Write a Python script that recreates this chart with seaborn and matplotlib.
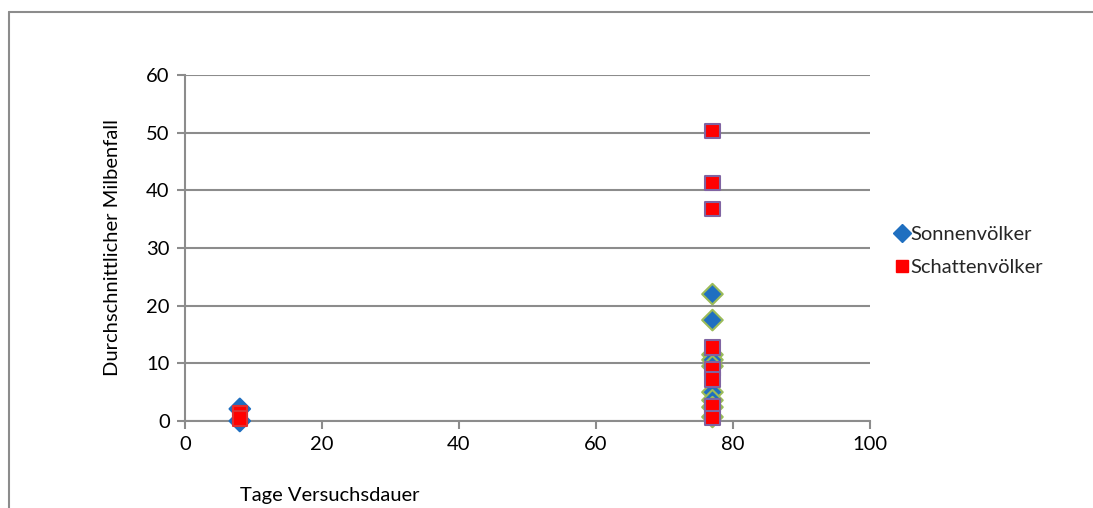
import matplotlib
matplotlib.use("Agg")
import matplotlib.pyplot as plt
import seaborn as sns
import pandas as pd
from matplotlib.lines import Line2D

# Data
sonnen_days = [8, 8, 77, 77, 77, 77, 77, 77, 77, 77, 77]
sonnen_vals = [2.1, 0.0, 22.0, 17.5, 11.5, 10.6, 9.5, 5.0, 3.6, 2.4, 0.7]
schatten_days = [8, 8, 77, 77, 77, 77, 77, 77, 77, 77]
schatten_vals = [1.3, 0.4, 50.3, 41.3, 36.8, 12.7, 9.0, 7.2, 2.5, 0.5]
x_ticks = [0, 20, 40, 60, 80, 100]
y_ticks = [0, 10, 20, 30, 40, 50, 60]

sonnen = pd.DataFrame({"Tage": sonnen_days, "Milbenfall": sonnen_vals})
schatten = pd.DataFrame({"Tage": schatten_days, "Milbenfall": schatten_vals})

sns.set_theme(style="white")
plt.rcParams["font.family"] = ["Lato", "DejaVu Sans"]

fig = plt.figure(figsize=(10.93, 5.08), dpi=100, facecolor="white",
                 edgecolor="white", linewidth=0)
ax = fig.add_axes([185 / 1093, 1 - 421 / 508, 685 / 1093, 346 / 508])

blue = "#1F6FC0"
green = "#9BBB59"
red = "#FF0000"
purple = "#8064A2"

s_edges = [blue if d < 20 else green for d in sonnen_days]
r_edges = ["#E03030" if d < 20 else purple for d in schatten_days]

sns.scatterplot(data=sonnen, x="Tage", y="Milbenfall", marker="D", s=110,
                color=blue, edgecolor=s_edges, linewidth=1.5, ax=ax, zorder=3,
                legend=False, clip_on=False)
sns.scatterplot(data=schatten, x="Tage", y="Milbenfall", marker="s", s=110,
                color=red, edgecolor=r_edges, linewidth=1.5, ax=ax, zorder=4,
                legend=False, clip_on=False)

fs = 14.5
ax.set_xlim(0, 100)
ax.set_ylim(0, 60)
ax.set_xticks(x_ticks)
ax.set_yticks(y_ticks)
ax.yaxis.grid(True, color="#8C8C8C", linewidth=1.5)
ax.xaxis.grid(False)
ax.set_axisbelow(True)
for side in ["top", "right"]:
    ax.spines[side].set_visible(False)
for side in ["left", "bottom"]:
    ax.spines[side].set_color("#8C8C8C")
    ax.spines[side].set_linewidth(1.5)
ax.tick_params(axis="both", which="both", length=6, width=1.5, color="#8C8C8C",
               labelsize=fs, labelcolor="black", direction="out", pad=5)
ax.tick_params(bottom=True, left=True)

ax.set_xlabel("Tage Versuchsdauer", fontsize=fs, color="black")
ax.xaxis.set_label_coords((330 - 185) / 685, -(496 - 421) / 346)
ax.xaxis.label.set_va("center")
ax.set_ylabel("Durchschnittlicher Milbenfall", fontsize=fs, color="black")
ax.yaxis.set_label_coords(-(185 - 113) / 685, 0.5)
ax.yaxis.label.set_va("center")

handles = [
    Line2D([], [], marker="D", linestyle="none", markersize=9,
           markerfacecolor=blue, markeredgecolor=blue, label="Sonnenvölker"),
    Line2D([], [], marker="s", linestyle="none", markersize=9,
           markerfacecolor=red, markeredgecolor=red, label="Schattenvölker"),
]
fig.legend(handles=handles, loc="center left", bbox_to_anchor=(878 / 1093, 1 - 251 / 508),
           frameon=False, fontsize=fs, handletextpad=-0.3, labelspacing=0.75,
           handlelength=1.4, borderpad=0)

# outer chart border (top and left edges visible)
fig.add_artist(Line2D([9 / 1093, 1.0], [1 - 12 / 508, 1 - 12 / 508],
                      transform=fig.transFigure, color="#8C8C8C", linewidth=1.5))
fig.add_artist(Line2D([9 / 1093, 9 / 1093], [0.0, 1 - 12 / 508],
                      transform=fig.transFigure, color="#8C8C8C", linewidth=1.5))

fig.savefig("out.png", dpi=100, facecolor="white")
